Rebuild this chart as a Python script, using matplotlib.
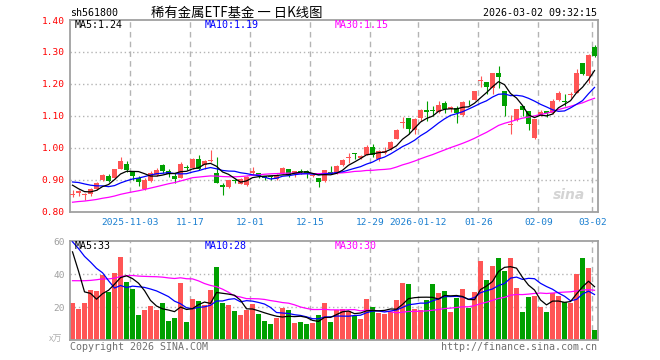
import numpy as np
import matplotlib
matplotlib.use('Agg')
import matplotlib.pyplot as plt

# ---------------- data ----------------
dates_ticks = ['2025-11-03', '11-17', '12-01', '12-15', '12-29', '2026-01-12', '01-26', '02-09', '03-02']
tick_index = [10, 20, 30, 40, 50, 58, 68, 78, 87]

opens = [0.853, 0.860, 0.853, 0.854, 0.871, 0.899, 0.912, 0.904, 0.935, 0.949,
         0.925, 0.904, 0.871, 0.897, 0.915, 0.946, 0.927, 0.912, 0.906, 0.938,
         0.936, 0.965, 0.945, 0.958, 0.920, 0.883, 0.876, 0.899, 0.888, 0.884,
         0.920, 0.920, 0.911, 0.910, 0.902, 0.921, 0.933, 0.917, 0.925, 0.926,
         0.912, 0.904, 0.895, 0.923, 0.921, 0.946, 0.968, 0.983, 0.969, 0.979,
         1.001, 0.966, 0.984, 0.996, 1.028, 1.078, 1.092, 1.057, 1.093, 1.118,
         1.118, 1.111, 1.139, 1.123, 1.125, 1.104, 1.144, 1.151, 1.209, 1.206,
         1.188, 1.234, 1.179, 1.071, 1.086, 1.130, 1.115, 1.031, 1.104, 1.115,
         1.109, 1.149, 1.145, 1.165, 1.172, 1.264, 1.226, 1.316]
highs = [0.867, 0.868, 0.858, 0.875, 0.893, 0.917, 0.919, 0.935, 0.971, 0.958,
         0.928, 0.912, 0.904, 0.926, 0.937, 0.950, 0.935, 0.920, 0.956, 0.946,
         0.968, 0.976, 0.962, 0.993, 0.972, 0.890, 0.900, 0.903, 0.906, 0.912,
         0.940, 0.921, 0.913, 0.912, 0.918, 0.940, 0.935, 0.928, 0.935, 0.929,
         0.919, 0.904, 0.931, 0.943, 0.945, 0.966, 0.985, 0.984, 0.977, 1.008,
         1.013, 0.992, 1.002, 1.020, 1.060, 1.097, 1.092, 1.094, 1.120, 1.148,
         1.132, 1.146, 1.146, 1.130, 1.130, 1.145, 1.151, 1.179, 1.224, 1.206,
         1.234, 1.257, 1.179, 1.104, 1.120, 1.132, 1.115, 1.091, 1.119, 1.115,
         1.153, 1.177, 1.167, 1.175, 1.247, 1.266, 1.294, 1.323]
lows = [0.847, 0.850, 0.838, 0.850, 0.868, 0.896, 0.893, 0.902, 0.933, 0.925,
        0.900, 0.880, 0.869, 0.894, 0.913, 0.922, 0.909, 0.891, 0.904, 0.930,
        0.934, 0.929, 0.935, 0.957, 0.889, 0.852, 0.873, 0.890, 0.886, 0.882,
        0.915, 0.907, 0.898, 0.898, 0.898, 0.919, 0.908, 0.909, 0.918, 0.905,
        0.909, 0.878, 0.893, 0.919, 0.919, 0.944, 0.951, 0.965, 0.965, 0.977,
        0.972, 0.960, 0.982, 0.993, 1.026, 1.062, 1.042, 1.042, 1.085, 1.083,
        1.101, 1.109, 1.109, 1.112, 1.078, 1.101, 1.133, 1.149, 1.191, 1.167,
        1.167, 1.188, 1.101, 1.042, 1.083, 1.101, 1.057, 1.026, 1.099, 1.097,
        1.107, 1.146, 1.131, 1.157, 1.170, 1.229, 1.203, 1.284]
closes = [0.855, 0.864, 0.855, 0.871, 0.889, 0.914, 0.896, 0.933, 0.958, 0.931,
          0.912, 0.894, 0.900, 0.921, 0.930, 0.928, 0.917, 0.902, 0.949, 0.936,
          0.965, 0.935, 0.958, 0.962, 0.891, 0.876, 0.898, 0.896, 0.902, 0.910,
          0.927, 0.913, 0.904, 0.908, 0.914, 0.938, 0.916, 0.926, 0.924, 0.920,
          0.914, 0.892, 0.930, 0.921, 0.943, 0.963, 0.970, 0.981, 0.975, 1.001,
          0.977, 0.989, 0.990, 1.018, 1.057, 1.080, 1.059, 1.089, 1.118, 1.113,
          1.116, 1.135, 1.120, 1.127, 1.109, 1.143, 1.142, 1.177, 1.211, 1.191,
          1.234, 1.222, 1.130, 1.073, 1.120, 1.118, 1.073, 1.089, 1.111, 1.109,
          1.146, 1.172, 1.143, 1.167, 1.234, 1.232, 1.290, 1.286]
volumes = [22.8, 19.0, 22.6, 30.5, 29.9, 39.6, 29.3, 41.0, 50.5, 35.4,
           31.1, 15.4, 18.4, 20.8, 18.4, 22.6, 11.7, 13.5, 34.7, 11.1,
           25.1, 23.8, 21.4, 30.5, 44.4, 22.6, 21.4, 17.8, 15.4, 18.4,
           22.0, 16.0, 11.7, 9.9, 13.5, 19.6, 18.4, 10.5, 11.1, 9.9,
           10.5, 15.4, 22.6, 11.1, 18.4, 19.0, 17.8, 14.7, 12.9, 25.1,
           20.2, 16.6, 16.0, 17.2, 24.4, 34.7, 34.1, 19.0, 18.5, 24.6,
           34.2, 28.8, 30.0, 17.3, 25.8, 31.2, 19.7, 29.4, 48.0, 36.5,
           45.0, 50.0, 42.0, 50.0, 32.0, 17.0, 26.5, 27.0, 20.0, 17.0,
           28.5, 26.7, 23.0, 22.4, 40.0, 50.0, 44.0, 6.3]
# sessions before the visible window (only feed the moving averages)
prior_closes = [0.80, 0.81, 0.80, 0.81, 0.80, 0.81, 0.81, 0.80, 0.81, 0.80,
                0.79, 0.78, 0.79, 0.80, 0.79, 0.78, 0.79, 0.80, 0.79, 0.80,
                0.88, 0.90, 0.91, 0.91, 0.915, 0.92, 0.90, 0.875, 0.865]
prior_volumes = [20, 22, 25, 18, 24, 30, 26, 22, 19, 28,
                 27, 23, 25, 21, 30, 26, 24, 22, 28, 28,
                 60, 70, 65, 68, 66.5, 77.5, 85.6, 35, 47.6]
price_ticks = [0.80, 0.90, 1.00, 1.10, 1.20, 1.30, 1.40]
vol_ticks = [20, 40, 60]

# ---------------- helpers ----------------
W, H = 660, 360
RED = '#ff5555'
GREEN = '#00a000'
GRID = '#b4b4b4'
FRAME = '#a0a0a0'
MONO = 'DejaVu Sans Mono'
CJK = ['Noto Sans CJK SC', 'DejaVu Sans']


def rect(l, t, r, b):
    return [l / W, 1 - b / H, (r - l) / W, (b - t) / H]


def ftext(x, y, s, **kw):
    fig.text(x / W, 1 - y / H, s, **kw)


def ma(series, n):
    s = np.asarray(series, dtype=float)
    return np.convolve(s, np.ones(n) / n, mode='valid')


n = len(closes)
xs = np.arange(n)
o = np.array(opens); c = np.array(closes); hi = np.array(highs); lo = np.array(lows)
v = np.array(volumes)
up = c >= o
cols = [RED if u else GREEN for u in up]

allc = np.array(prior_closes + closes)
allv = np.array(prior_volumes + volumes)
p_ma = {k: ma(allc, k)[-n:] for k in (5, 10, 30)}
v_ma = {k: ma(allv, k)[-n:] for k in (5, 10, 30)}

fig = plt.figure(figsize=(6.6, 3.6), dpi=100)
ax = fig.add_axes(rect(70.3, 20, 597.7, 211.7))
axv = fig.add_axes(rect(70.3, 240.5, 597.7, 340.3))

xlim = (-0.37, 87.53)
grid_x = [i - 0.35 for i in tick_index]

for a in (ax, axv):
    a.set_xlim(*xlim)
    for sp in a.spines.values():
        sp.set_color(FRAME)
        sp.set_linewidth(1.3)
    for gx in grid_x:
        a.axvline(gx, color=GRID, lw=1.0, ls=(0, (4, 3)), zorder=0)

# ---- price panel ----
ax.set_ylim(0.80, 1.40)
for yv in price_ticks[1:-1]:
    ax.axhline(yv, color=GRID, lw=1.0, ls=(0, (1, 2)), zorder=0)
ax.vlines(xs, lo, hi, colors=cols, lw=0.8, zorder=2)
body = np.maximum(np.abs(c - o), 0.0025)
ax.bar(xs, body, bottom=np.minimum(o, c), width=0.82, color=cols, zorder=3, linewidth=0)
ax.plot(xs, p_ma[30], color='#ff00ff', lw=0.9, zorder=4)
ax.plot(xs, p_ma[10], color='#0000ff', lw=0.9, zorder=4)
ax.plot(xs, p_ma[5], color='black', lw=0.9, zorder=4)

ax.set_yticks(price_ticks)
ax.set_yticklabels(['%.2f' % t for t in price_ticks], fontfamily=MONO, fontsize=6.8, color='#ff0000')
ax.set_xticks(grid_x)
ax.set_xticklabels(dates_ticks, fontfamily=MONO, fontsize=6.8, color='#1a7fd0')
ax.tick_params(axis='both', length=0)
ax.tick_params(axis='y', pad=4)
ax.tick_params(axis='x', pad=4.5)

ax.text(0.945, 0.085, 'sina', transform=ax.transAxes, fontsize=10, fontstyle='italic',
        fontweight='bold', color='#d4d4d4', ha='center', va='center', zorder=1)

# ---- volume panel ----
axv.set_ylim(0, 60.6)
for yv in vol_ticks[:-1]:
    axv.axhline(yv, color=GRID, lw=1.0, ls=(0, (1, 2)), zorder=0)
axv.bar(xs, v, width=0.82, color=cols, linewidth=0, zorder=2)
axv.plot(xs, v_ma[30], color='#ff00ff', lw=0.9, zorder=4)
axv.plot(xs, v_ma[10], color='#0000ff', lw=0.9, zorder=4)
axv.plot(xs, v_ma[5], color='black', lw=0.9, zorder=4)
axv.set_yticks(vol_ticks)
axv.set_yticklabels([str(t) for t in vol_ticks], fontfamily=MONO, fontsize=6.8, color='#a0a0a0')
axv.set_xticks([])
axv.tick_params(axis='both', length=0)
axv.tick_params(axis='y', pad=4)

# ---- texts ----
ftext(70, 12.5, 'sh561800', fontfamily=MONO, fontsize=7.2, ha='left', va='center', color='black')
ftext(237, 12.5, '稀有金属ETF基金 一 日K线图', fontfamily=CJK, fontsize=9.6, ha='center', va='center', color='black')
ftext(597, 12.5, '2026-03-02 09:32:15', fontfamily=MONO, fontsize=7.2, ha='right', va='center', color='black')

ftext(75, 25.5, 'MA5:%.2f' % p_ma[5][-1], fontfamily=MONO, fontsize=7.2, ha='left', va='center', color='black')
ftext(205, 25.5, 'MA10:%.2f' % p_ma[10][-1], fontfamily=MONO, fontsize=7.2, ha='left', va='center', color='#0000ff')
ftext(335, 25.5, 'MA30:%.2f' % (np.floor(p_ma[30][-1] * 100) / 100), fontfamily=MONO, fontsize=7.2, ha='left', va='center', color='#ff00ff')

ftext(75, 246, 'MA5:%d' % round(v_ma[5][-1]), fontfamily=MONO, fontsize=7.2, ha='left', va='center', color='black')
ftext(205, 246, 'MA10:%d' % round(v_ma[10][-1]), fontfamily=MONO, fontsize=7.2, ha='left', va='center', color='#0000ff')
ftext(335, 246, 'MA30:%d' % round(v_ma[30][-1]), fontfamily=MONO, fontsize=7.2, ha='left', va='center', color='#ff00ff')

ftext(56, 339, 'x万', fontfamily=CJK, fontsize=6.5, ha='center', va='center', color='#b0b0b0')
ftext(70, 346.5, 'Copyright 2026 SINA.COM', fontfamily=MONO, fontsize=7.2, ha='left', va='center', color='#707070')
ftext(597, 346.5, 'http://finance.sina.com.cn', fontfamily=MONO, fontsize=7.2, ha='right', va='center', color='#707070')

fig.savefig('out.png', dpi=100)
